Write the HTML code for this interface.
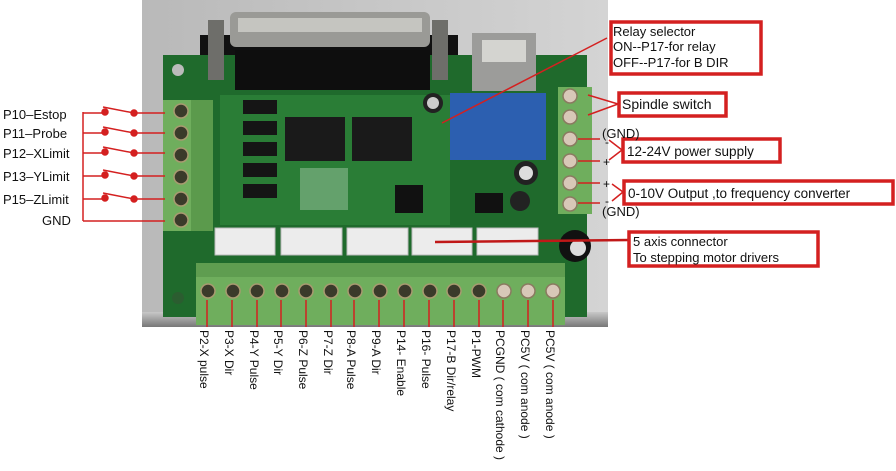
<!DOCTYPE html>
<html><head><meta charset="utf-8"><style>
html,body{margin:0;padding:0;background:#fff;width:896px;height:471px;overflow:hidden}
svg{display:block;font-family:"Liberation Sans",sans-serif}
</style></head><body>
<svg width="896" height="471" viewBox="0 0 896 471">
<defs>
<linearGradient id="bg" x1="0" x2="1"><stop offset="0" stop-color="#b9b9b9"/><stop offset="1" stop-color="#d4d4d4"/></linearGradient>
<linearGradient id="bot" x1="0" y1="0" x2="0" y2="1"><stop offset="0" stop-color="#c8c8c8"/><stop offset="1" stop-color="#777"/></linearGradient>
</defs>
<!-- photo -->
<rect x="142" y="0" width="466" height="327" fill="url(#bg)"/>
<rect x="142" y="312" width="466" height="15" fill="url(#bot)"/>
<!-- PCB -->
<rect x="163" y="55" width="424" height="262" fill="#1f6a2c"/>
<rect x="220" y="95" width="230" height="130" fill="#2a7d36"/>
<circle cx="178" cy="70" r="6" fill="#bbb"/><circle cx="178" cy="298" r="6" fill="#2b5d30"/>
<!-- DB25 -->
<rect x="200" y="35" width="258" height="20" fill="#111"/>
<rect x="230" y="12" width="200" height="35" rx="6" fill="#9a9a96"/>
<rect x="238" y="18" width="184" height="14" fill="#c5c5c0"/>
<rect x="235" y="50" width="195" height="40" fill="#0e0e0e"/>
<rect x="208" y="20" width="16" height="60" fill="#6e6e6a"/>
<rect x="432" y="20" width="16" height="60" fill="#6e6e6a"/>
<!-- USB -->
<rect x="472" y="33" width="64" height="58" fill="#9c9c9a"/>
<rect x="482" y="40" width="44" height="22" fill="#d4d4d0"/>
<!-- relay -->
<rect x="450" y="93" width="96" height="67" fill="#2c5fb0"/>
<!-- ICs -->
<rect x="285" y="117" width="60" height="44" fill="#1a1a1a"/>
<rect x="352" y="117" width="60" height="44" fill="#1a1a1a"/>
<g fill="#151515"><rect x="243" y="100" width="34" height="14"/><rect x="243" y="121" width="34" height="14"/><rect x="243" y="142" width="34" height="14"/><rect x="243" y="163" width="34" height="14"/><rect x="243" y="184" width="34" height="14"/></g>
<rect x="300" y="168" width="48" height="42" fill="#d0e6d0" opacity=".35"/>
<circle cx="526" cy="173" r="12" fill="#222"/><circle cx="526" cy="173" r="7" fill="#ddd"/>
<circle cx="520" cy="201" r="10" fill="#222"/>
<circle cx="433" cy="103" r="10" fill="#222"/><circle cx="433" cy="103" r="6" fill="#ccc"/>
<circle cx="575" cy="246" r="16" fill="#111"/><circle cx="578" cy="248" r="8" fill="#ddd"/>
<rect x="395" y="185" width="28" height="28" fill="#111"/>
<rect x="475" y="193" width="28" height="20" fill="#111"/>
<!-- white connectors -->
<g fill="#ececec" stroke="#bbb"><rect x="215" y="228" width="60" height="27"/><rect x="281" y="228" width="61" height="27"/><rect x="347" y="228" width="61" height="27"/><rect x="412" y="228" width="60" height="27"/><rect x="477" y="228" width="61" height="27"/></g>
<!-- left terminal -->
<rect x="163" y="100" width="50" height="131" fill="#6fae5d"/>
<rect x="191" y="100" width="22" height="131" fill="#5b9a4c"/>
<!-- right terminal -->
<rect x="558" y="87" width="34" height="127" fill="#6fae5d"/>
<!-- bottom terminal -->
<rect x="196" y="263" width="369" height="62" fill="#6fae5d"/>
<rect x="196" y="263" width="369" height="14" fill="#5f9d50"/>
<g fill="#3a3a2a" stroke="#a89a70" stroke-width="1.5">
<circle cx="181" cy="111" r="7"/><circle cx="181" cy="133" r="7"/><circle cx="181" cy="155" r="7"/><circle cx="181" cy="177" r="7"/><circle cx="181" cy="199" r="7"/><circle cx="181" cy="220" r="7"/>
<circle cx="208" cy="291" r="7"/><circle cx="233" cy="291" r="7"/><circle cx="257" cy="291" r="7"/><circle cx="282" cy="291" r="7"/><circle cx="306" cy="291" r="7"/><circle cx="331" cy="291" r="7"/><circle cx="355" cy="291" r="7"/><circle cx="380" cy="291" r="7"/><circle cx="405" cy="291" r="7"/><circle cx="430" cy="291" r="7"/><circle cx="454" cy="291" r="7"/><circle cx="479" cy="291" r="7"/>
</g>
<g fill="#d8c8b8" stroke="#8a7a60" stroke-width="1.5">
<circle cx="504" cy="291" r="7"/><circle cx="528" cy="291" r="7"/><circle cx="553" cy="291" r="7"/>
<circle cx="570" cy="96" r="7"/><circle cx="570" cy="117" r="7"/><circle cx="570" cy="139" r="7"/><circle cx="570" cy="161" r="7"/><circle cx="570" cy="183" r="7"/><circle cx="570" cy="204" r="7"/>
</g>
<!-- bottom red lines -->
<g stroke="#d42020" stroke-width="1.5">
<line x1="207" y1="300" x2="207" y2="327"/><line x1="232" y1="300" x2="232" y2="327"/><line x1="257" y1="300" x2="257" y2="327"/><line x1="281" y1="300" x2="281" y2="327"/><line x1="306" y1="300" x2="306" y2="327"/><line x1="331" y1="300" x2="331" y2="327"/><line x1="354" y1="300" x2="354" y2="327"/><line x1="379" y1="300" x2="379" y2="327"/><line x1="404" y1="300" x2="404" y2="327"/><line x1="429" y1="300" x2="429" y2="327"/><line x1="454" y1="300" x2="454" y2="327"/><line x1="479" y1="300" x2="479" y2="327"/><line x1="503" y1="300" x2="503" y2="327"/><line x1="528" y1="300" x2="528" y2="327"/><line x1="553" y1="300" x2="553" y2="327"/>
</g>
<g font-size="12" fill="#111">
<text transform="translate(200,330) rotate(90)">P2-X pulse</text>
<text transform="translate(225,330) rotate(90)">P3-X Dir</text>
<text transform="translate(250,330) rotate(90)">P4-Y Pulse</text>
<text transform="translate(274,330) rotate(90)">P5-Y Dir</text>
<text transform="translate(299,330) rotate(90)">P6-Z Pulse</text>
<text transform="translate(324,330) rotate(90)">P7-Z Dir</text>
<text transform="translate(347,330) rotate(90)">P8-A Pulse</text>
<text transform="translate(372,330) rotate(90)">P9-A Dir</text>
<text transform="translate(397,330) rotate(90)">P14- Enable</text>
<text transform="translate(422,330) rotate(90)">P16- Pulse</text>
<text transform="translate(447,330) rotate(90)">P17-B Dir/relay</text>
<text transform="translate(472,330) rotate(90)">P1-PWM</text>
<text transform="translate(496,330) rotate(90)">PCGND ( com cathode )</text>
<text transform="translate(521,330) rotate(90)">PC5V ( com anode )</text>
<text transform="translate(546,330) rotate(90)">PC5V ( com anode )</text>
</g>
<!-- left switches -->
<g stroke="#d42020" stroke-width="1.5" fill="none">
<line x1="83" y1="112" x2="83" y2="221"/>
<line x1="83" y1="221" x2="165" y2="221"/>
</g>
<g stroke="#d42020" stroke-width="1.5" fill="#d42020">
<g><line x1="83" y1="113" x2="105" y2="113"/><line x1="103" y1="107" x2="134" y2="113"/><line x1="134" y1="113" x2="165" y2="113"/><circle cx="105" cy="112" r="3"/><circle cx="134" cy="113" r="3"/></g>
<g transform="translate(0,20)"><line x1="83" y1="113" x2="105" y2="113"/><line x1="103" y1="107" x2="134" y2="113"/><line x1="134" y1="113" x2="165" y2="113"/><circle cx="105" cy="112" r="3"/><circle cx="134" cy="113" r="3"/></g>
<g transform="translate(0,40)"><line x1="83" y1="113" x2="105" y2="113"/><line x1="103" y1="107" x2="134" y2="113"/><line x1="134" y1="113" x2="165" y2="113"/><circle cx="105" cy="112" r="3"/><circle cx="134" cy="113" r="3"/></g>
<g transform="translate(0,63)"><line x1="83" y1="113" x2="105" y2="113"/><line x1="103" y1="107" x2="134" y2="113"/><line x1="134" y1="113" x2="165" y2="113"/><circle cx="105" cy="112" r="3"/><circle cx="134" cy="113" r="3"/></g>
<g transform="translate(0,86)"><line x1="83" y1="113" x2="105" y2="113"/><line x1="103" y1="107" x2="134" y2="113"/><line x1="134" y1="113" x2="165" y2="113"/><circle cx="105" cy="112" r="3"/><circle cx="134" cy="113" r="3"/></g>
</g>
<g font-size="13" fill="#111">
<text x="3" y="119">P10–Estop</text>
<text x="3" y="138">P11–Probe</text>
<text x="3" y="158">P12–XLimit</text>
<text x="3" y="181">P13–YLimit</text>
<text x="3" y="204">P15–ZLimit</text>
<text x="42" y="225">GND</text>
</g>
<!-- right annotations -->
<g stroke="#d42020" stroke-width="1.5" fill="none">
<line x1="607" y1="38" x2="442" y2="123"/>
<line x1="588" y1="95" x2="618" y2="104"/><line x1="588" y1="115" x2="618" y2="104"/>
<line x1="578" y1="139" x2="600" y2="139"/><line x1="578" y1="161" x2="600" y2="161"/>
<line x1="609" y1="140" x2="622" y2="150"/><line x1="609" y1="160" x2="622" y2="150"/>
<line x1="578" y1="183" x2="600" y2="183"/><line x1="578" y1="203" x2="600" y2="203"/>
<line x1="612" y1="184" x2="623" y2="192"/><line x1="612" y1="201" x2="623" y2="192"/>
</g>
<line x1="435" y1="242" x2="630" y2="240" stroke="#c01818" stroke-width="2.5"/>
<g fill="#fff" stroke="#d42020" stroke-width="3.5">
<rect x="611" y="22" width="150" height="52"/>
<rect x="619" y="93" width="107" height="23"/>
<rect x="623" y="139" width="157" height="23"/>
<rect x="624" y="181" width="269" height="23"/>
<rect x="629" y="232" width="189" height="34"/>
</g>
<g font-size="13" fill="#111">
<text x="613" y="36">Relay selector</text>
<text x="613" y="51">ON--P17-for relay</text>
<text x="613" y="67">OFF--P17-for B DIR</text>
<text x="622" y="109" font-size="14">Spindle switch</text>
<text x="627" y="156" font-size="13.5">12-24V power supply</text>
<text x="628" y="198" font-size="13.5">0-10V Output ,to frequency converter</text>
<text x="633" y="246">5 axis connector</text>
<text x="633" y="262">To stepping motor drivers</text>
<text x="602" y="138">(GND)</text>
<text x="602" y="216">(GND)</text>
<text x="603" y="166" font-size="12">+</text>
<text x="603" y="188" font-size="12">+</text>
<text x="605" y="146" font-size="12">-</text>
<text x="605" y="205" font-size="12">-</text>
</g>
</svg>
</body></html>
